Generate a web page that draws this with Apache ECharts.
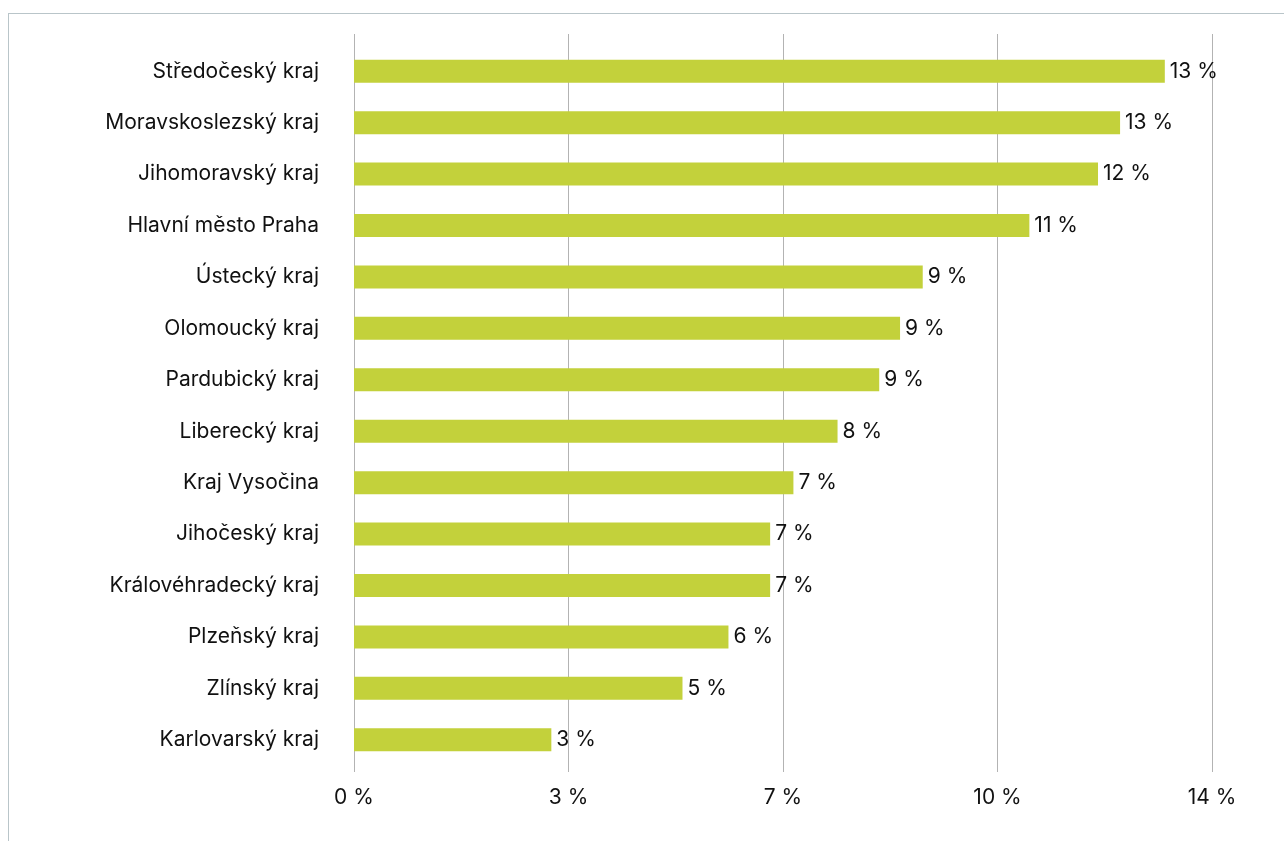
<!DOCTYPE html>
<html><head><meta charset="utf-8">
<script src="https://cdn.jsdelivr.net/npm/echarts@6/dist/echarts.min.js"></script>
<style>
html,body{margin:0;padding:0;background:#fff;}
#frame{position:absolute;left:8px;top:13px;width:1300px;height:900px;border-left:1px solid #b9c5c9;border-top:1px solid #b9c5c9;}
#c{position:absolute;left:0;top:0;width:1284px;height:841px;}
</style></head>
<body><div id="frame"></div><div id="c"></div>
<script>
const categories = ['Středočeský kraj','Moravskoslezský kraj','Jihomoravský kraj','Hlavní město Praha','Ústecký kraj','Olomoucký kraj','Pardubický kraj','Liberecký kraj','Kraj Vysočina','Jihočeský kraj','Královéhradecký kraj','Plzeňský kraj','Zlínský kraj','Karlovarský kraj'];
const values = [13.23, 12.5, 12.14, 11.02, 9.28, 8.91, 8.57, 7.89, 7.17, 6.79, 6.79, 6.11, 5.36, 3.22];
const tickValues = [0, 3.5, 7, 10.5, 14];
const tickLabels = ['0 %', '3 %', '7 %', '10 %', '14 %'];

const font = 'Inter';
const fs = 21;
const chart = echarts.init(document.getElementById('c'), null, {renderer:'canvas'});
chart.setOption({
  animation:false,
  grid:[
    {left:354, top:34, width:858, height:738, containLabel:false},
    {left:354, top:45.5, width:858, height:720, containLabel:false}
  ],
  xAxis:[
    {gridIndex:0, type:'value', min:0, max:14, interval:3.5,
     axisLine:{show:false}, axisTick:{show:false},
     splitLine:{show:true, lineStyle:{color:'#b3b3b3', width:1}},
     axisLabel:{margin:15, fontFamily:font, fontSize:fs, color:'#111',
       formatter:function(v){const i=tickValues.indexOf(v);return i>=0?tickLabels[i]:'';}}},
    {gridIndex:1, type:'value', min:0, max:14, show:false}
  ],
  yAxis:[
    {gridIndex:0, type:'category', data:categories, inverse:true, show:false},
    {gridIndex:1, type:'category', data:categories, inverse:true,
     axisLine:{show:false}, axisTick:{show:false},
     axisLabel:{margin:35, fontFamily:font, fontSize:fs, color:'#111'}}
  ],
  series:[{
    type:'bar', xAxisIndex:1, yAxisIndex:1, data:values, barWidth:23,
    itemStyle:{color:'#c3d13b'},
    label:{show:true, position:'right', distance:5, fontFamily:font, fontSize:fs, color:'#111',
      formatter:function(p){return Math.round(p.value)+' %';}}
  }]
});
</script></body></html>
